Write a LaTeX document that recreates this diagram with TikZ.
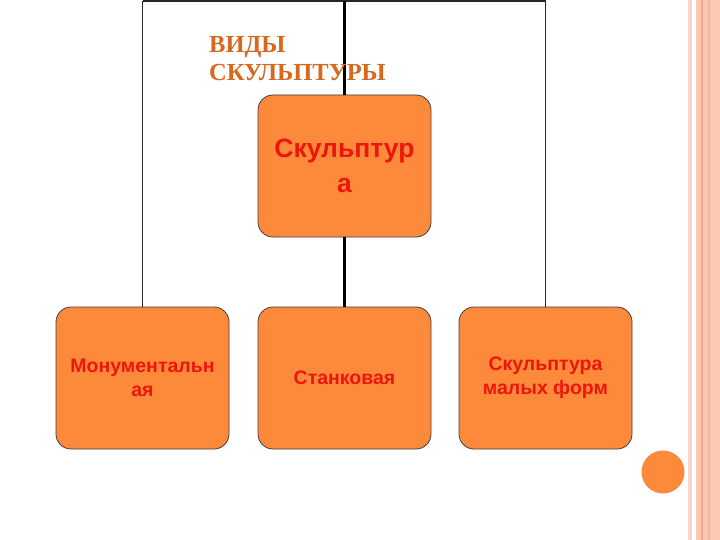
\documentclass[tikz,border=0pt]{standalone}
\usepackage{xcolor}
\usepackage{fontspec}
\setmainfont{Liberation Serif}
\newfontfamily\arialfont{Liberation Sans}
\usepackage{tikz}
\usetikzlibrary{positioning}

\definecolor{boxorange}{RGB}{253,137,58}
\definecolor{boxred}{RGB}{238,22,12}
\definecolor{titleorange}{RGB}{217,104,31}
\definecolor{stripelight}{RGB}{251,214,198}
\definecolor{stripesalmon}{RGB}{252,200,178}
\definecolor{stripedark}{RGB}{240,170,140}

\tikzset{
 vidbox/.style={draw=black!75, line width=0.8pt, fill=boxorange, rounded corners=15pt,
   minimum width=173pt, minimum height=142pt, align=center, text=boxred,
   font=\arialfont\bfseries\fontsize{19.5}{24}\selectfont},
 link/.style={line width=1.7pt, draw=black!85}
}

\begin{document}
\begin{tikzpicture}[x=1pt, y=-1pt]
 \useasboundingbox (0,0) rectangle (720,540);
 \fill [white] (0,0) rectangle (720,540);

 % right edge stripes
 \fill [stripelight] (687.5,0) rectangle (692.3,540);
 \fill [stripesalmon] (696,0) rectangle (720,540);
 \fill [stripedark] (700.7,0) rectangle (703.3,540);
 \fill [stripedark!60!stripesalmon] (707.5,0) rectangle (709.5,540);
 \fill [boxorange] (663,472) circle (21.5);

 \node [vidbox, font=\arialfont\bfseries\fontsize{26.5}{35}\selectfont] (skulp) at (344.5,166) {Скульптур\\а};
 \node [vidbox] (monum) at (142.5,378) {Монументальн\\ая};
 \node [vidbox] (stank) at (344.5,378) {Станковая};
 \node [vidbox] (malye) at (545.5,378) {Скульптура\\малых форм};

 \coordinate (tl) at (142.5,1);
 \coordinate (tm) at (344.5,1);
 \coordinate (tr) at (545.5,1);

 \draw [link] (tl) -- (tr);
 \draw [link] (tl) -- (monum.north);
 \draw [link] (tr) -- (malye.north);
 \draw [link, line width=2.3pt, draw=black] (tm) -- (skulp.north);
 \draw [link, line width=2.3pt, draw=black] (skulp.south) -- (stank.north);

 \node [anchor=north west, align=left, text=titleorange, inner sep=0pt,
   font=\bfseries\fontsize{24.5}{28}\selectfont] (title) at (209,36) {ВИДЫ\\СКУЛЬПТУРЫ};
\end{tikzpicture}
\end{document}
